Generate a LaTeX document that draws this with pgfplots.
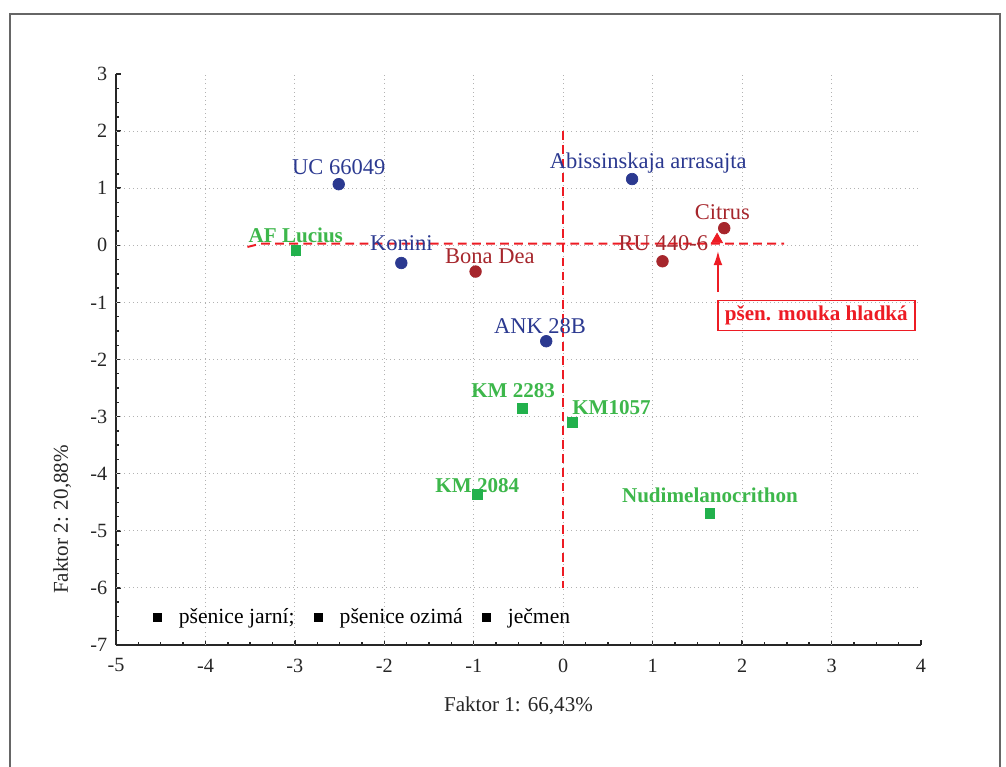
\documentclass[border=0pt]{standalone}
\usepackage{pgfplots}
\pgfplotsset{compat=1.18}
\usepackage{fontspec}
\setmainfont{Liberation Serif}
\usetikzlibrary{arrows.meta}
\definecolor{cblue}{RGB}{43,57,144}
\definecolor{cred}{RGB}{166,38,44}
\definecolor{cgreen}{RGB}{34,177,76}
\definecolor{lgreen}{RGB}{61,183,75}
\definecolor{lred}{RGB}{237,28,36}
\begin{document}
\begin{tikzpicture}
\useasboundingbox (-2.32,-2.42) rectangle (17.8,12.9);
\draw[line width=1.3pt, color=black!60] (-2.12,-2.7) -- (-2.12,12.62) -- (17.68,12.62) -- (17.68,-2.7);
\begin{axis}[
  at={(0,0)}, anchor=south west, scale only axis,
  width=16.1cm, height=11.42cm,
  xmin=-5, xmax=4, ymin=-7, ymax=3,
  axis lines*=left,
  xtick={-5,...,4}, ytick={-7,...,3},
  minor tick num=3,
  tick align=inside,
  major tick length=0.11cm, minor tick length=0.07cm,
  axis line style={line width=1pt, black!85},
  tick style={line width=0.8pt, black!85},
  extra x ticks={-4,...,3}, extra y ticks={-6,...,2},
  extra x tick style={grid=major, xticklabel={}, major tick length=0pt},
  extra y tick style={grid=major, yticklabel={}, major tick length=0pt},
  grid style={dotted, line width=0.6pt, black!30},
  /pgf/number format/assume math mode=true,
  tick label style={font=\fontsize{11.5}{13}\selectfont, black!85},
  xticklabel style={yshift=-0.15cm},
  yticklabel style={xshift=-0.05cm},
  xlabel={Faktor 1: 66,43\%},
  ylabel={Faktor 2: 20,88\%},
  label style={font=\fontsize{12}{14}\selectfont, black!85},
  xlabel style={at={(axis description cs:0.5,-0.107)}, anchor=center},
  ylabel style={at={(axis description cs:-0.067,0.22)}, anchor=center},
  legend style={at={(axis cs:-4.62,-6.51)}, anchor=west, draw=none, fill=none,
    font=\fontsize{12.3}{14}\selectfont, inner sep=0pt,
    /tikz/every even column/.append style={column sep=0.26cm}},
  legend columns=3,
  legend image code/.code={\fill[black] (0.06cm,-2.2pt) rectangle ++(4.4pt,4.4pt); \path[draw=none,fill=none] (0,0) rectangle (0.5cm,0.01cm);},
  clip=false,
]
% blue: psenice jarni
\addplot[forget plot, only marks, mark=*, mark size=3.3pt, color=cblue]
  coordinates {(-2.51,1.07) (0.77,1.16) (-1.81,-0.31) (-0.19,-1.68)};
% red: psenice ozima
\addplot[forget plot, only marks, mark=*, mark size=3.3pt, color=cred]
  coordinates {(-0.98,-0.46) (1.80,0.30) (1.11,-0.28)};
% green: jecmen
\addplot[forget plot, only marks, mark=square*, mark size=2.8pt, color=cgreen]
  coordinates {(-2.99,-0.09) (-0.46,-2.85) (0.10,-3.10) (-0.96,-4.36) (1.64,-4.69)};
% dashed axes lines
\addplot[forget plot, lred, line width=1.1pt, dash pattern=on 5pt off 3pt]
  coordinates {(-3.53,-0.03) (-3.38,0.03) (2.47,0.03)};
\addplot[forget plot, lred, line width=1.1pt, dash pattern=on 5pt off 3pt]
  coordinates {(0,2.0) (0,-6.0)};
% reference flour
\addplot[forget plot, only marks, mark=triangle*, mark size=3.6pt, color=lred]
  coordinates {(1.72,0.10)};

\addlegendimage{black}
\addlegendentry{pšenice jarní;}
\addlegendimage{black}
\addlegendentry{pšenice ozimá}
\addlegendimage{black}
\addlegendentry{ječmen}

\begin{scope}[every node/.style={font=\fontsize{12.8}{14}\selectfont, inner sep=0pt}]
\node[text=cblue] at (axis cs:-2.51,1.37) {UC 66049};
\node[text=cblue] at (axis cs:0.95,1.44) {Abissinskaja arrasajta};
\node[text=cblue] at (axis cs:-1.81,0.04) {Konini};
\node[text=cred] at (axis cs:-0.82,-0.19) {Bona Dea};
\node[text=cblue] at (axis cs:-0.26,-1.42) {ANK 28B};
\node[text=cred] at (axis cs:1.78,0.58) {Citrus};
\node[text=cred] at (axis cs:1.12,0.04) {RU 440-6};
\end{scope}
\begin{scope}[every node/.style={font=\fontsize{12}{14}\selectfont\bfseries, inner sep=0pt, text=lgreen}]
\node at (axis cs:-2.99,0.18) {AF Lucius};
\node at (axis cs:-0.56,-2.54) {KM 2283};
\node at (axis cs:0.54,-2.84) {KM1057};
\node at (axis cs:-0.96,-4.20) {KM 2084};
\node at (axis cs:1.64,-4.37) {Nudimelanocrithon};
\end{scope}
\draw[lred, line width=0.9pt, -{Latex[length=8pt,width=5pt]}] (axis cs:1.73,-0.82) -- (axis cs:1.73,-0.10);
\node[draw=lred, line width=0.9pt, text=lred, font=\fontsize{12}{14}\selectfont\bfseries, inner xsep=4pt, inner ysep=3pt]
  at (axis cs:2.83,-1.23) {pšen. mouka hladká};
\end{axis}
\end{tikzpicture}
\end{document}
